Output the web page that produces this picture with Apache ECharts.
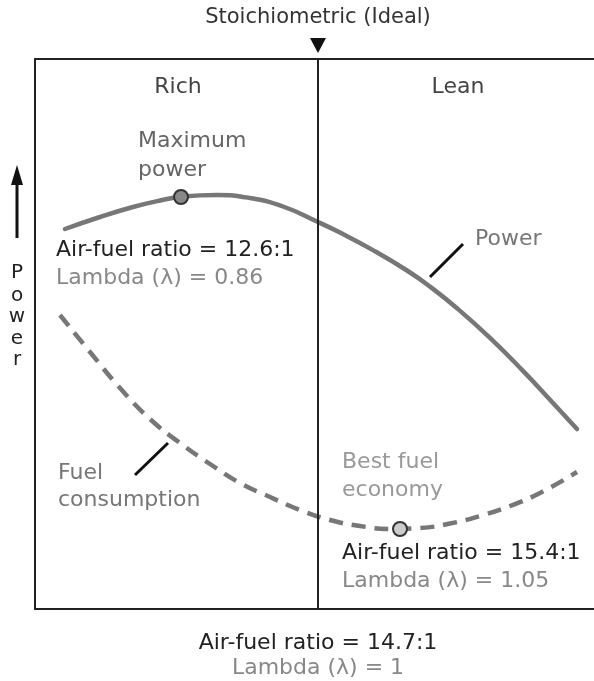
<!DOCTYPE html>
<html><head><meta charset="utf-8">
<script src="https://cdn.jsdelivr.net/npm/echarts@6/dist/echarts.min.js"></script>
<style>html,body{margin:0;padding:0;background:#fff}#c{width:594px;height:681px}</style>
</head><body><div id="c"></div>
<script>
// x: schematic air-fuel position, y: relative level
const powerX = [30, 65, 98, 125, 148, 182, 215, 248, 283, 305, 338, 372, 395, 422, 455, 488, 518, 542];
const powerY = [380, 392, 402, 408.5, 412.5, 414, 411, 402.5, 387, 376.4, 358.9, 338.5, 322.4, 300.8, 271.1, 238.1, 206, 180];
const fuelX = [25, 55, 85, 115, 145, 175, 205, 235, 265, 295, 325, 355, 385, 415, 445, 475, 505, 542];
const fuelY = [294, 257, 221, 190, 166, 145, 126, 112, 99, 89, 83, 80, 81, 85.5, 93, 103, 116, 137];
const maxPower = [146, 412];
const bestFuel = [365, 80];
const stoichX = 283;

const F = 'DejaVu Sans';
const chart = echarts.init(document.getElementById('c'));
const txt = (x, y, s, color, align, size) => ({
  type: 'text', x: x, y: y,
  style: { text: s, fill: color, font: (size || 22) + 'px ' + F, textAlign: align || 'left', textVerticalAlign: 'middle' }
});
const boxAxis = (pos) => ({
  type: 'value', min: 0, max: 559, position: pos,
  axisLine: { show: true, onZero: false, lineStyle: { color: '#222', width: 2 } },
  axisTick: { show: false }, axisLabel: { show: false }, splitLine: { show: false }
});
chart.setOption({
  animation: false,
  grid: { left: 35, top: 59, right: 0, bottom: 72 },
  xAxis: [boxAxis('bottom'), boxAxis('top')],
  yAxis: {
    type: 'value', min: 0, max: 550,
    axisLine: { show: true, onZero: false, lineStyle: { color: '#222', width: 2 } },
    axisTick: { show: false }, axisLabel: { show: false }, splitLine: { show: false }
  },
  series: [
    {
      type: 'line', smooth: true, symbol: 'none',
      data: powerX.map((x, i) => [x, powerY[i]]),
      lineStyle: { color: '#777', width: 4.5, cap: 'round' },
      markLine: {
        silent: true, symbol: 'none', label: { show: false },
        lineStyle: { color: '#222', width: 2, type: 'solid' },
        data: [{ xAxis: stoichX }]
      }
    },
    {
      type: 'line', smooth: true, symbol: 'none',
      data: fuelX.map((x, i) => [x, fuelY[i]]),
      lineStyle: { color: '#777', width: 4.5, type: [14, 9] }
    },
    {
      type: 'scatter', symbolSize: 14, z: 5,
      data: [{ value: maxPower, itemStyle: { color: '#888' } }, { value: bestFuel, itemStyle: { color: '#ccc' } }],
      itemStyle: { borderColor: '#333', borderWidth: 2, opacity: 1 }
    }
  ],
  graphic: [
    txt(318, 18, 'Stoichiometric (Ideal)', '#333', 'center', 21),
    { type: 'polygon', shape: { points: [[310, 38], [326, 38], [318, 53]] }, style: { fill: '#111' } },
    txt(178, 87, 'Rich', '#444', 'center'),
    txt(458, 87, 'Lean', '#444', 'center'),
    txt(138, 141, 'Maximum', '#666'),
    txt(138, 170, 'power', '#666'),
    txt(56, 250, 'Air-fuel ratio = 12.6:1', '#222'),
    txt(56, 278, 'Lambda (λ) = 0.86', '#888'),
    txt(475, 239, 'Power', '#777'),
    { type: 'line', shape: { x1: 430, y1: 277, x2: 463, y2: 244 }, style: { stroke: '#111', lineWidth: 3 } },
    txt(58, 473, 'Fuel', '#777'),
    txt(58, 500, 'consumption', '#777'),
    { type: 'line', shape: { x1: 135, y1: 475, x2: 168, y2: 443 }, style: { stroke: '#111', lineWidth: 3 } },
    txt(342, 462, 'Best fuel', '#999'),
    txt(342, 490, 'economy', '#999'),
    txt(342, 553, 'Air-fuel ratio = 15.4:1', '#222'),
    txt(342, 581, 'Lambda (λ) = 1.05', '#888'),
    txt(318, 643, 'Air-fuel ratio = 14.7:1', '#222', 'center'),
    txt(318, 668, 'Lambda (λ) = 1', '#888', 'center'),
    { type: 'line', shape: { x1: 17, y1: 238, x2: 17, y2: 180 }, style: { stroke: '#111', lineWidth: 3 } },
    { type: 'polygon', shape: { points: [[11, 185], [23, 185], [17, 165]] }, style: { fill: '#111' } },
    txt(17, 273, 'P', '#222', 'center', 20),
    txt(17, 296, 'o', '#222', 'center', 20),
    txt(17, 317, 'w', '#222', 'center', 20),
    txt(17, 339, 'e', '#222', 'center', 20),
    txt(17, 360, 'r', '#222', 'center', 20)
  ]
});
</script></body></html>
